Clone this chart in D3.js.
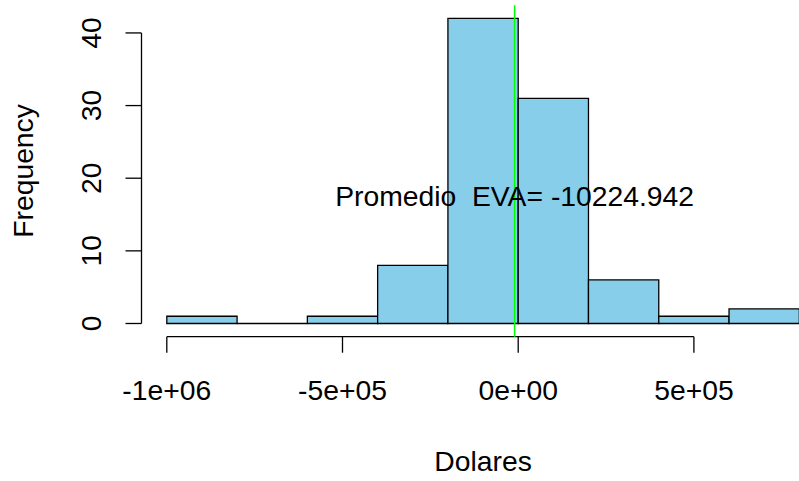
<!DOCTYPE html>
<html>
<head>
<meta charset="utf-8">
<script src="https://cdn.jsdelivr.net/npm/d3@7"></script>
<style>
  html, body { margin: 0; padding: 0; background: #fff; }
  svg { display: block; }
  text { font-family: "Liberation Sans", Arial, Helvetica, sans-serif; fill: #000; }
</style>
</head>
<body>
<svg id="chart" width="799" height="481"></svg>
<script>
// Histogram of EVA outcomes (USD), bin width 200,000
const binEdges = [-1000000, -800000, -600000, -400000, -200000, 0, 200000, 400000, 600000, 800000];
const binCounts = [1, 0, 1, 8, 42, 31, 6, 1, 2];
const meanEVA = -10224.942;
const meanLabelY = 17.5;
const xTicks = [-1000000, -500000, 0, 500000];
const xTickLabels = ["-1e+06", "-5e+05", "0e+00", "5e+05"];
const yTicks = [0, 10, 20, 30, 40];
const xTitle = "Dolares";
const yTitle = "Frequency";

const svg = d3.select("#chart");
const fontSize = 28.3;

// plot region spans the bin range padded by 4% on each side
const xPad = (binEdges[binEdges.length - 1] - binEdges[0]) * 0.04;
const yMax = d3.max(binCounts);
const yPad = yMax * 0.04;

const x = d3.scaleLinear()
  .domain([binEdges[0] - xPad, binEdges[binEdges.length - 1] + xPad])
  .range([141.5, 141.5 + (binEdges[binEdges.length - 1] - binEdges[0] + 2 * xPad) * 0.0003514]);
const y = d3.scaleLinear()
  .domain([-yPad, yMax + yPad])
  .range([335.7, 6.2]);

const bins = binCounts.map((c, i) => ({ x0: binEdges[i], x1: binEdges[i + 1], count: c }));

// bars as closed paths so empty bins still show their outline
svg.append("g").selectAll("path")
  .data(bins)
  .join("path")
  .attr("d", d => {
    const x0 = x(d.x0), x1 = x(d.x1), y0 = y(0), y1 = y(d.count);
    return `M${x0},${y0}L${x0},${y1}L${x1},${y1}L${x1},${y0}Z`;
  })
  .attr("fill", "#87CEEB")
  .attr("stroke", "#000")
  .attr("stroke-width", 1.3);

// x axis below the plot region
const xAxisY = y(-yPad);
const gx = svg.append("g");
gx.append("line")
  .attr("x1", x(xTicks[0])).attr("x2", x(xTicks[xTicks.length - 1]))
  .attr("y1", xAxisY + 1).attr("y2", xAxisY + 1)
  .attr("stroke", "#000").attr("stroke-width", 1.3);
gx.selectAll("line.tick")
  .data(xTicks)
  .join("line")
  .attr("class", "tick")
  .attr("x1", d => x(d)).attr("x2", d => x(d))
  .attr("y1", xAxisY + 1).attr("y2", xAxisY + 17)
  .attr("stroke", "#000").attr("stroke-width", 1.3);
gx.selectAll("text")
  .data(xTicks)
  .join("text")
  .attr("x", d => x(d))
  .attr("y", 400)
  .attr("text-anchor", "middle")
  .attr("font-size", fontSize)
  .text((d, i) => xTickLabels[i]);

// y axis left of the plot region
const yAxisX = x(binEdges[0] - xPad);
const gy = svg.append("g");
gy.append("line")
  .attr("x1", yAxisX).attr("x2", yAxisX)
  .attr("y1", y(yTicks[0])).attr("y2", y(yTicks[yTicks.length - 1]))
  .attr("stroke", "#000").attr("stroke-width", 1.3);
gy.selectAll("line.tick")
  .data(yTicks)
  .join("line")
  .attr("class", "tick")
  .attr("x1", yAxisX - 16).attr("x2", yAxisX)
  .attr("y1", d => y(d)).attr("y2", d => y(d))
  .attr("stroke", "#000").attr("stroke-width", 1.3);
gy.selectAll("text")
  .data(yTicks)
  .join("text")
  .attr("transform", d => `translate(100.5,${y(d)}) rotate(-90)`)
  .attr("text-anchor", "middle")
  .attr("font-size", fontSize)
  .text(d => d);

// axis titles
svg.append("text")
  .attr("x", (x.range()[0] + x.range()[1]) / 2)
  .attr("y", 470.5)
  .attr("text-anchor", "middle")
  .attr("font-size", fontSize)
  .text(xTitle);
svg.append("text")
  .attr("transform", `translate(33,${(y.range()[0] + y.range()[1]) / 2}) rotate(-90)`)
  .attr("text-anchor", "middle")
  .attr("font-size", fontSize)
  .text(yTitle);

// mean marker and label
svg.append("line")
  .attr("x1", x(meanEVA)).attr("x2", x(meanEVA))
  .attr("y1", y.range()[1] - 1).attr("y2", y.range()[0] + 1)
  .attr("stroke", "#00FF00").attr("stroke-width", 1.5);
svg.append("text")
  .attr("x", x(meanEVA))
  .attr("y", y(meanLabelY))
  .attr("dy", "0.35em")
  .attr("text-anchor", "middle")
  .attr("font-size", fontSize)
  .attr("xml:space", "preserve")
  .style("white-space", "pre")
  .text("Promedio  EVA= " + meanEVA.toFixed(3));
</script>
</body>
</html>
